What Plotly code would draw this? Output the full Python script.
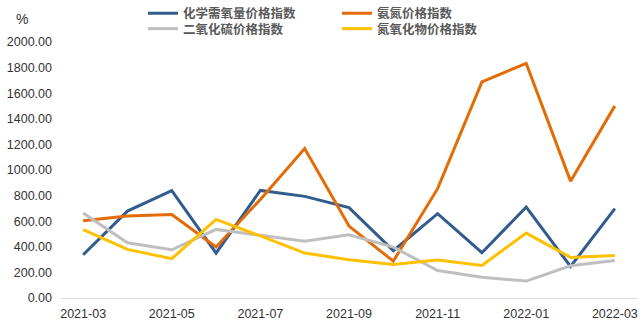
import plotly.graph_objects as go

months = ["2021-03", "2021-04", "2021-05", "2021-06", "2021-07", "2021-08", "2021-09",
          "2021-10", "2021-11", "2021-12", "2022-01", "2022-02", "2022-03"]
tick_labels = ["2021-03", "2021-05", "2021-07", "2021-09", "2021-11", "2022-01", "2022-03"]

cod = [338, 679, 838, 351, 840, 794, 706, 370, 659, 354, 711, 246, 698]
ammonia = [604, 640, 653, 398, 770, 1167, 562, 288, 854, 1689, 1833, 913, 1501]
so2 = [664, 432, 377, 536, 490, 444, 494, 398, 215, 163, 132, 252, 293]
nox = [534, 380, 307, 614, 485, 351, 299, 262, 296, 254, 507, 317, 333]

names = ["化学需氧量价格指数", "氨氮价格指数", "二氧化硫价格指数", "氮氧化物价格指数"]
colors = ["#335B8E", "#E36C09", "#BFBFBF", "#FFC000"]
series = [cod, ammonia, so2, nox]
legends = ["legend", "legend", "legend2", "legend2"]

fig = go.Figure()
for n, c, s, lg in zip(names, colors, series, legends):
    fig.add_trace(go.Scatter(x=months, y=s, name=n, mode="lines",
                             line=dict(color=c, width=3), legend=lg))

W, H = 640, 331
L, R, T, B = 61, 3, 42, 33
PW, PH = W - L - R, H - T - B
legend_font = dict(family="Noto Sans CJK SC", size=12.5, color="#595959", weight="bold")
common = dict(orientation="h", xref="container", yref="container", xanchor="left",
              yanchor="middle", entrywidth=149, entrywidthmode="pixels",
              font=legend_font, bgcolor="rgba(0,0,0,0)", borderwidth=0,
              itemwidth=30, tracegroupgap=0)

fig.update_layout(
    width=W, height=H,
    margin=dict(l=L, r=R, t=T, b=B, autoexpand=False),
    paper_bgcolor="white", plot_bgcolor="white",
    font=dict(family="Liberation Sans", size=12.5, color="#333333"),
    xaxis=dict(type="category", range=[-0.5, 12.5], tickmode="array",
               tickvals=tick_labels, ticktext=tick_labels, showgrid=False,
               showline=True, linecolor="#D9D9D9", linewidth=1, ticks="",
               ticklabelstandoff=4,
               tickfont=dict(family="Liberation Sans", size=12.5, color="#333333")),
    yaxis=dict(range=[0, 2000], dtick=200, tickformat=".2f", showgrid=False,
               zeroline=False, showline=False, ticks="", ticklabelstandoff=8,
               tickfont=dict(family="Liberation Sans", size=12.5, color="#333333")),
    legend=dict(x=143 / W, y=1 - 13.5 / H, **common),
    legend2=dict(x=143 / W, y=1 - 29 / H, **common),
    annotations=[dict(text="%", x=(22 - L) / PW, y=(H - B - 19) / PH, xref="paper", yref="paper",
                      xanchor="center", yanchor="middle", showarrow=False,
                      font=dict(family="Liberation Sans", size=14, color="#333333"))],
)

fig.write_html("out.html")
